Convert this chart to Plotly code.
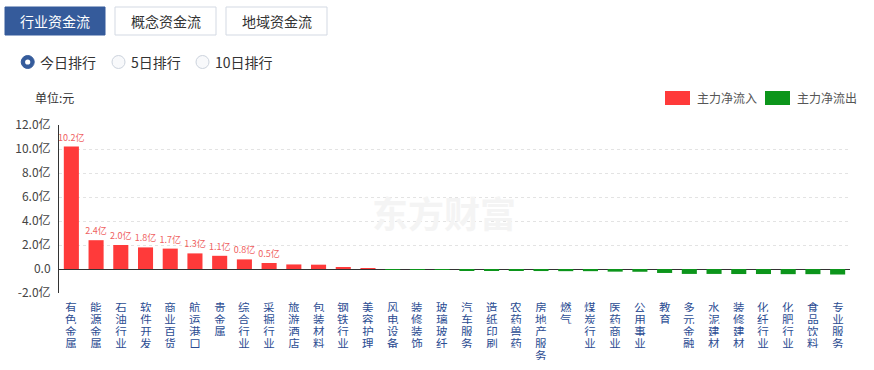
import plotly.graph_objects as go

# ---------------- data ----------------
categories = ["有色金属", "能源金属", "石油行业", "软件开发", "商业百货", "航运港口", "贵金属", "综合行业",
              "采掘行业", "旅游酒店", "包装材料", "钢铁行业", "美容护理", "风电设备", "装修装饰", "玻璃玻纤",
              "汽车服务", "造纸印刷", "农药兽药", "房地产服务", "燃气", "煤炭行业", "医药商业", "公用事业",
              "教育", "多元金融", "水泥建材", "装修建材", "化纤行业", "化肥行业", "食品饮料", "专业服务"]
values = [10.2, 2.4, 2.0, 1.8, 1.7, 1.3, 1.1, 0.8,
          0.5, 0.38, 0.36, 0.14, 0.03, -0.04, -0.06, -0.07,
          -0.1, -0.13, -0.14, -0.17, -0.18, -0.18, -0.22, -0.23,
          -0.33, -0.41, -0.41, -0.42, -0.42, -0.43, -0.43, -0.46]
ytick_vals = [-2, 0, 2, 4, 6, 8, 10, 12]
ytick_text = ["-2.0亿", "0.0", "2.0亿", "4.0亿", "6.0亿", "8.0亿", "10.0亿", "12.0亿"]
tabs = ["行业资金流", "概念资金流", "地域资金流"]
radios = ["今日排行", "5日排行", "10日排行"]
legend_names = ["主力净流入", "主力净流出"]

RED = "#ff3a3a"
GREEN = "#0c951b"
BLUE = "#355b9b"
FONT = "Microsoft YaHei, Noto Sans CJK SC, sans-serif"

# ---------------- geometry ----------------
W, H = 874, 370
L, R, T, B = 59, 24, 125, 77
PW, PH = W - L - R, H - T - B


def px(x):
    return (x - L) / PW


def py(y):
    return (H - B - y) / PH


colors = [RED if v >= 0 else GREEN for v in values]
labels = [f"{v:.1f}亿" if v >= 0.5 else "" for v in values]

fig = go.Figure()
fig.add_trace(go.Bar(
    x=categories, y=values, marker=dict(color=colors, line=dict(width=0)),
    text=labels, textposition="outside", constraintext="none", cliponaxis=False,
    textfont=dict(size=9, color="#ef5f5f", family=FONT),
    showlegend=False, hoverinfo="x+y",
))

shapes = []
annotations = []

# tabs
tab_x = [(5, 105), (115, 216), (226, 327)]
for i, (name, (x0, x1)) in enumerate(zip(tabs, tab_x)):
    sel = i == 0
    shapes.append(dict(type="rect", xref="paper", yref="paper",
                       x0=px(x0), x1=px(x1), y0=py(35), y1=py(7),
                       fillcolor=BLUE if sel else "white",
                       line=dict(color=BLUE if sel else "#d3d9e3", width=1), layer="above"))
    annotations.append(dict(xref="paper", yref="paper", x=px((x0 + x1) / 2), y=py(21),
                            text=name, showarrow=False, xanchor="center", yanchor="middle",
                            font=dict(size=14, color="white" if sel else "#333", family=FONT)))

# radios
radio_cx = [27.7, 118.5, 202.5]
for i, (name, cx) in enumerate(zip(radios, radio_cx)):
    cy = 62
    if i == 0:
        shapes.append(dict(type="circle", xref="paper", yref="paper",
                           x0=px(cx - 6.5), x1=px(cx + 6.5), y0=py(cy + 6.5), y1=py(cy - 6.5),
                           fillcolor=BLUE, line=dict(color=BLUE, width=1)))
        shapes.append(dict(type="circle", xref="paper", yref="paper",
                           x0=px(cx - 2.6), x1=px(cx + 2.6), y0=py(cy + 2.6), y1=py(cy - 2.6),
                           fillcolor="white", line=dict(width=0)))
    else:
        shapes.append(dict(type="circle", xref="paper", yref="paper",
                           x0=px(cx - 6.5), x1=px(cx + 6.5), y0=py(cy + 6.5), y1=py(cy - 6.5),
                           fillcolor="#f8f9fb", line=dict(color="#ccd3dd", width=1)))
    annotations.append(dict(xref="paper", yref="paper", x=px(cx + 10.5), y=py(cy),
                            text=name, showarrow=False, xanchor="left", yanchor="middle",
                            font=dict(size=14, color="#333", family=FONT)))

# unit
annotations.append(dict(xref="paper", yref="paper", x=px(33), y=py(98), text="单位:元",
                        showarrow=False, xanchor="left", yanchor="middle",
                        font=dict(size=12, color="#333", family=FONT)))

# legend
leg = [(665, RED, legend_names[0]), (765, GREEN, legend_names[1])]
for x0, col, name in leg:
    shapes.append(dict(type="rect", xref="paper", yref="paper",
                       x0=px(x0), x1=px(x0 + 25), y0=py(105), y1=py(91),
                       fillcolor=col, line=dict(width=0)))
    annotations.append(dict(xref="paper", yref="paper", x=px(x0 + 30), y=py(98), text=name,
                            showarrow=False, xanchor="left", yanchor="middle",
                            font=dict(size=12, color="#555", family=FONT)))

# watermark
annotations.append(dict(xref="paper", yref="paper", x=px(444), y=py(212), text="<b>东方财富</b>",
                        showarrow=False, xanchor="center", yanchor="middle",
                        font=dict(size=36, color="#f4f4f4", family=FONT)))

# vertical category labels (one character per line, stacked as in the reference)
for cat in categories:
    for j, ch in enumerate(cat):
        annotations.append(dict(xref="x", yref="paper", x=cat, y=py(306 + j * 12.2), text=ch,
                                showarrow=False, xanchor="center", yanchor="middle",
                                height=11, width=12, borderpad=0, valign="middle",
                                font=dict(size=11.5, color="#2c4d93", family=FONT)))

fig.update_layout(
    width=W, height=H, margin=dict(l=L, r=R, t=T, b=B, pad=0),
    paper_bgcolor="white", plot_bgcolor="white",
    bargap=0.39, shapes=shapes, annotations=annotations,
    font=dict(family=FONT),
    xaxis=dict(showticklabels=False, showgrid=False, showline=False, ticks="",
               zeroline=False, fixedrange=True, automargin=False),
    yaxis=dict(range=[-2, 12], tickvals=ytick_vals, ticktext=ytick_text,
               showgrid=True, gridcolor="#e3e3e3", griddash="dot", gridwidth=1,
               zeroline=True, zerolinecolor="#333", zerolinewidth=1,
               showline=True, linecolor="#333", linewidth=1,
               ticks="", ticklabelstandoff=5, automargin=False,
               tickfont=dict(size=12, color="#444", family=FONT), fixedrange=True),
)

fig.write_html("out.html", config={"displayModeBar": False},
               post_script="document.body.style.margin='0';")
